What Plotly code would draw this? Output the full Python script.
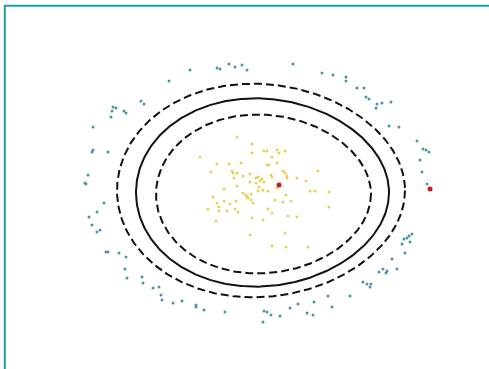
import numpy as np
import plotly.graph_objects as go

# Outer class (teal) sample positions
teal_x = [190, 217, 220, 229, 235, 242, 247, 293, 322, 333, 346, 346, 357, 364, 366, 369,
          377, 382, 391, 376, 389, 399, 417, 423, 426, 429, 420, 422, 427,
          169, 141, 144, 113, 116, 112, 111, 124, 126, 93, 92, 93, 108, 88, 85, 86,
          104, 97, 89, 92, 97, 100, 106, 108, 119, 126, 125, 127, 142, 143, 153, 159,
          161, 162, 173, 182, 196, 196, 204, 225,
          264, 267, 271, 263, 280, 290, 298, 307, 313, 314, 328, 332, 350, 363, 367,
          370, 371, 379, 383, 387, 386, 397, 392, 405, 402, 404, 407, 410, 412, 409]
teal_y = [70, 68, 69, 64, 67, 65, 70, 64, 73, 75, 77, 81, 88, 88, 97, 99,
          104, 103, 102, 108, 126, 127, 141, 149, 150, 152, 160, 172, 184,
          81, 101, 104, 107, 108, 111, 117, 111, 113, 127, 152, 150, 152, 175, 183, 184,
          203, 212, 217, 225, 232, 230, 252, 252, 253, 257, 269, 278, 277, 283, 288, 287,
          295, 300, 303, 301, 305, 307, 310, 312,
          311, 312, 315, 322, 316, 308, 304, 313, 315, 302, 296, 307, 296, 282, 284,
          287, 284, 272, 269, 271, 273, 269, 259, 253, 244, 239, 238, 242, 234, 236]

# Inner class (yellow) sample positions
yellow_x = [237, 252, 252, 264, 267, 277, 279, 285, 200, 272, 217, 229, 241, 267, 269, 277,
            211, 232, 233, 237, 243, 250, 283, 285, 318, 271, 272, 256, 258, 260, 262, 264,
            234, 250, 256, 287, 287, 297, 306, 237, 259, 258, 263, 224, 277, 268, 243, 246,
            247, 251, 310, 315, 329, 213, 224, 236, 248, 251, 253, 217, 230, 219, 208, 219,
            227, 235, 238, 286, 275, 283, 291, 268, 272, 329, 216, 252, 263, 288, 297, 250,
            285, 272, 286, 308]
yellow_y = [137, 144, 153, 151, 151, 150, 153, 151, 157, 157, 164, 164, 163, 165, 165, 163,
            172, 171, 173, 173, 176, 174, 171, 173, 171, 175, 177, 178, 177, 181, 179, 182,
            178, 182, 183, 176, 178, 178, 181, 186, 187, 191, 190, 189, 188, 191, 193, 195,
            197, 194, 191, 191, 192, 197, 201, 201, 198, 200, 203, 203, 204, 207, 209, 211,
            211, 209, 212, 195, 200, 202, 201, 209, 213, 207, 221, 218, 220, 216, 217, 235,
            233, 246, 247, 247]

# Highlighted samples (red)
red_x = [279, 430]
red_y = [185, 189]

# Decision boundary (solid) and margins (dashed):
# centre x, centre y, half-width, half-height
boundary = (262.5, 192.5, 126.5, 93.0)
margin_outer = (261.0, 190.5, 144.0, 105.5)
margin_inner = (263.5, 194.0, 107.5, 78.5)

# Egg-shaped skew of the level curves: blunter on the left, narrower on the right
SKEW = 0.16
SHIFT = 0.10


def contour(cx, cy, a, b, n=500):
    t = np.linspace(0, 2 * np.pi, n)
    x = cx + a * np.cos(t) + SHIFT * a * np.sin(t) ** 2
    y = cy + b * np.sin(t) * (1 - SKEW * np.cos(t))
    return x, y


fig = go.Figure()

for params, dash in [(margin_outer, "8px,4px"), (boundary, "solid"), (margin_inner, "8px,4px")]:
    xs, ys = contour(*params)
    fig.add_trace(go.Scatter(x=xs, y=ys, mode="lines",
                             line=dict(color="#111111", width=2, dash=dash),
                             hoverinfo="skip", showlegend=False))

fig.add_trace(go.Scatter(x=teal_x, y=teal_y, mode="markers",
                         marker=dict(color="#4a95a5", size=3), showlegend=False))
fig.add_trace(go.Scatter(x=yellow_x, y=yellow_y, mode="markers",
                         marker=dict(color="#eccf52", size=3), showlegend=False))
fig.add_trace(go.Scatter(x=red_x, y=red_y, mode="markers",
                         marker=dict(color="#cc1a1a", size=5), showlegend=False))

# Teal frame along the top and left edges
frame = "#1ba0ac"
fig.add_shape(type="line", x0=4.8, x1=4.8, y0=5, y1=369, line=dict(color=frame, width=2))
fig.add_shape(type="line", x0=4, x1=489, y0=5.8, y1=5.8, line=dict(color=frame, width=2))

fig.update_xaxes(range=[0, 489], visible=False, fixedrange=True)
fig.update_yaxes(range=[369, 0], visible=False, fixedrange=True)
fig.update_layout(width=489, height=369, autosize=False,
                  margin=dict(l=0, r=0, t=0, b=0),
                  paper_bgcolor="white", plot_bgcolor="white")

fig.write_html("out.html")
